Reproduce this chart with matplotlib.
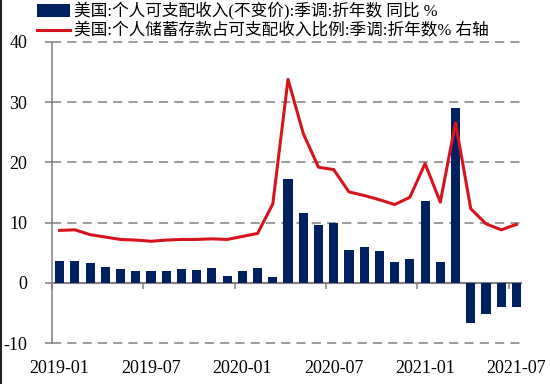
import numpy as np
import matplotlib
matplotlib.use('Agg')
import matplotlib.pyplot as plt
from matplotlib.lines import Line2D

plt.rcParams['font.family'] = ['Liberation Serif', 'Noto Sans CJK SC']
plt.rcParams['axes.unicode_minus'] = False

# monthly, 2019-01 .. 2021-07
months = ['2019-01', '2019-02', '2019-03', '2019-04', '2019-05', '2019-06',
          '2019-07', '2019-08', '2019-09', '2019-10', '2019-11', '2019-12',
          '2020-01', '2020-02', '2020-03', '2020-04', '2020-05', '2020-06',
          '2020-07', '2020-08', '2020-09', '2020-10', '2020-11', '2020-12',
          '2021-01', '2021-02', '2021-03', '2021-04', '2021-05', '2021-06',
          '2021-07']
income_yoy = [3.7, 3.7, 3.3, 2.6, 2.3, 2.0, 1.9, 2.0, 2.3, 2.2, 2.4, 1.1,
              2.0, 2.4, 0.9, 17.2, 11.6, 9.6, 9.9, 5.4, 5.9, 5.2, 3.4, 3.9,
              13.6, 3.4, 29.1, -6.7, -5.1, -4.1, -4.0]
saving_rate = [8.7, 8.8, 8.0, 7.6, 7.2, 7.1, 6.9, 7.1, 7.2, 7.2, 7.3, 7.2,
               7.7, 8.2, 13.1, 33.8, 24.8, 19.2, 18.8, 15.1, 14.5, 13.8, 13.0, 14.2,
               19.8, 13.4, 26.6, 12.3, 9.8, 8.8, 9.7]
label_bar = '美国:个人可支配收入(不变价):季调:折年数 同比 %'
label_line = '美国:个人储蓄存款占可支配收入比例:季调:折年数% 右轴'
tick_months = ['2019-01', '2019-07', '2020-01', '2020-07', '2021-01', '2021-07']

navy = '#002060'
red = '#d7141e'
gray = '#808080'

fig = plt.figure(figsize=(5.5, 3.84), dpi=100)
ax = fig.add_axes([52 / 550, 1 - 343 / 384, (521 - 52) / 550, (343 - 42) / 384])

x = np.arange(len(months))
bars = ax.bar(x, income_yoy, width=0.6, color=navy, label=label_bar, zorder=3)
line, = ax.plot(x, saving_rate, color=red, lw=2.2, label=label_line, zorder=4)

ax.set_ylim(-10, 40)
ax.set_xlim(-0.5, 30.3)
ax.set_yticks([-10, 0, 10, 20, 30, 40])
for y in [-10, 10, 20, 30, 40]:
    ax.axhline(y, color=gray, lw=1.1, ls=(0, (6, 4)), zorder=1, clip_on=False)

for s in ['top', 'right', 'bottom']:
    ax.spines[s].set_visible(False)
ax.spines['left'].set_color(gray)
ax.spines['left'].set_linewidth(1.1)
ax.tick_params(axis='y', length=5, width=1.1, color=gray, pad=13, labelsize=13)

# month labels under the bars
tick_idx = [months.index(m) for m in tick_months]
ax.set_xticks(tick_idx)
ax.set_xticklabels(tick_months)
ax.tick_params(axis='x', length=0, pad=12, labelsize=13)

# zero line with month-boundary ticks
sec = ax.secondary_xaxis(0.2)
sec.set_xticks([i - 0.5 for i in tick_idx])
sec.set_xticklabels([])
sec.spines['bottom'].set_color(gray)
sec.spines['bottom'].set_linewidth(1.5)
sec.tick_params(length=4, width=1.1, color=gray)

fig.legend(handles=[bars, line], loc='upper left',
           bbox_to_anchor=(37 / 550, 1 - 2 / 384), frameon=False,
           fontsize=12, borderpad=0, borderaxespad=0, labelspacing=0.2,
           handlelength=2.0, handletextpad=0.25, handleheight=0.85)

# dark edge on the left of the picture
fig.add_artist(Line2D([0.001, 0.001], [0, 1], color='#222222', lw=1.5,
                      transform=fig.transFigure))

fig.savefig('out.png', dpi=100)
